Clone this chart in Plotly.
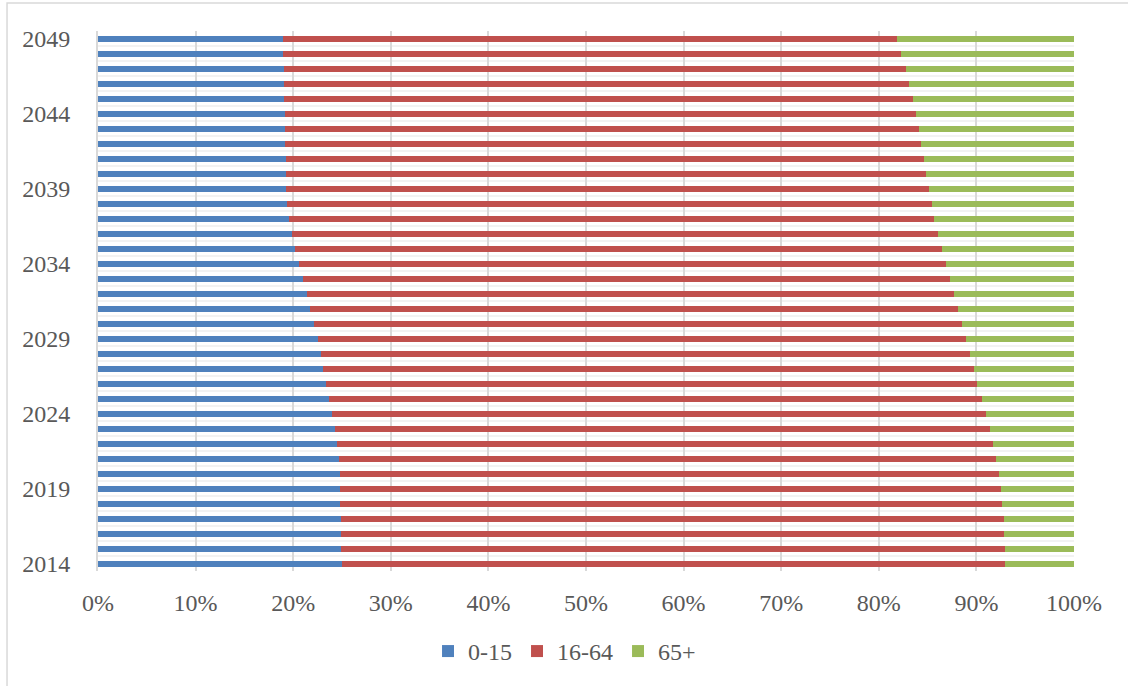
import plotly.graph_objects as go

years = list(range(2014, 2050))

age_0_15 = [25.0, 24.9, 24.9, 24.9, 24.8, 24.8, 24.8, 24.7, 24.5, 24.3,
            24.0, 23.7, 23.4, 23.1, 22.8, 22.5, 22.1, 21.7, 21.4, 21.0,
            20.6, 20.2, 19.9, 19.6, 19.4, 19.3, 19.3, 19.3, 19.2, 19.2,
            19.2, 19.1, 19.1, 19.1, 19.0, 19.0]
age_16_64 = [67.9, 68.0, 67.9, 67.9, 67.8, 67.7, 67.5, 67.3, 67.2, 67.1,
             67.0, 66.9, 66.7, 66.7, 66.5, 66.4, 66.4, 66.4, 66.3, 66.3,
             66.3, 66.3, 66.2, 66.1, 66.0, 65.8, 65.5, 65.3, 65.1, 64.9,
             64.6, 64.4, 64.0, 63.7, 63.3, 62.9]
age_65_plus = [7.1, 7.1, 7.2, 7.2, 7.4, 7.5, 7.7, 8.0, 8.3, 8.6,
               9.0, 9.4, 9.9, 10.2, 10.7, 11.1, 11.5, 11.9, 12.3, 12.7,
               13.1, 13.5, 13.9, 14.3, 14.6, 14.9, 15.2, 15.4, 15.7, 15.9,
               16.2, 16.5, 16.9, 17.2, 17.7, 18.1]

series_names = ["0-15", "16-64", "65+"]
series_colors = ["#4f81bd", "#c0504d", "#9bbb59"]
y_tick_years = [2014, 2019, 2024, 2029, 2034, 2039, 2044, 2049]
x_ticks = list(range(0, 101, 10))

font_family = "Liberation Serif, Times New Roman, serif"
text_color = "#595959"

fig = go.Figure()
for name, vals, col in zip(series_names, [age_0_15, age_16_64, age_65_plus], series_colors):
    fig.add_trace(go.Bar(
        y=years, x=vals, name=name, orientation="h",
        marker=dict(color=col, line=dict(width=0)),
    ))

fig.update_layout(
    barmode="stack",
    bargap=0.6,
    width=1128, height=686,
    margin=dict(l=98, r=54, t=31, b=115),
    plot_bgcolor="white", paper_bgcolor="white",
    font=dict(family=font_family, size=24, color=text_color),
    showlegend=True,
    legend=dict(orientation="h", x=0.478, xanchor="center", y=-0.149, yanchor="middle",
                font=dict(family=font_family, size=24, color=text_color),
                traceorder="normal", itemwidth=30),
    shapes=[dict(type="rect", xref="paper", yref="paper",
                 x0=-0.0932, x1=1.2, y0=-0.5, y1=1.0519,
                 line=dict(color="#d9d9d9", width=1.5), layer="below")],
)

fig.update_xaxes(
    range=[0, 100], tickvals=x_ticks, ticktext=[f"{v}%" for v in x_ticks],
    showgrid=True, gridcolor="#d9d9d9", gridwidth=1.5,
    zeroline=False, showline=False, ticks="", ticklabelstandoff=15,
    fixedrange=True,
)
fig.update_yaxes(
    range=[2013.5, 2049.5], tickvals=y_tick_years, ticktext=[str(y) for y in y_tick_years],
    showgrid=False, zeroline=False,
    showline=True, linecolor="#d9d9d9", linewidth=2,
    ticks="", ticklabelstandoff=21,
    minor=dict(tick0=2013.5, dtick=1, showgrid=True, gridcolor="#f2f2f2", gridwidth=2),
    fixedrange=True,
)

fig.write_html("out.html")
